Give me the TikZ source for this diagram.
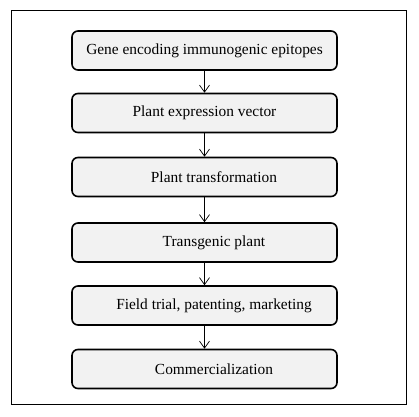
\documentclass[tikz,border=0pt]{standalone}
\usepackage{fontspec}
\setmainfont{Liberation Serif}
\usetikzlibrary{arrows.meta}
\tikzset{
  stepbox/.style={draw, line width=1.6pt, rounded corners=6pt, fill=black!5,
    minimum width=265pt, minimum height=39pt, inner sep=0pt,
    font=\fontsize{15.4}{18}\selectfont},
  flow/.style={-{Straight Barb[length=7pt,width=10pt]}, line width=0.7pt}
}
\begin{document}
\begin{tikzpicture}[x=1pt,y=-1pt]
  \useasboundingbox (0,0) rectangle (419,416);
  \draw[line width=0.8pt] (11,10) rectangle (406,404);
  \foreach [count = \i] \txt/\dx/\y in {Gene encoding immunogenic epitopes/0/50.5,
      Plant expression vector/0/113,
      Plant transformation/19/177,
      Transgenic plant/19/242.5,
      {Field trial, patenting, marketing}/19/305.5,
      Commercialization/19/369}
    \node [stepbox] (s\i) at (204.5,\y) {\hspace*{\dx pt}\txt};
  \foreach \i [evaluate = \i as \j using int(\i+1)] in {1,...,5}
    \draw [flow] (s\i) -- (s\j);
\end{tikzpicture}
\end{document}
